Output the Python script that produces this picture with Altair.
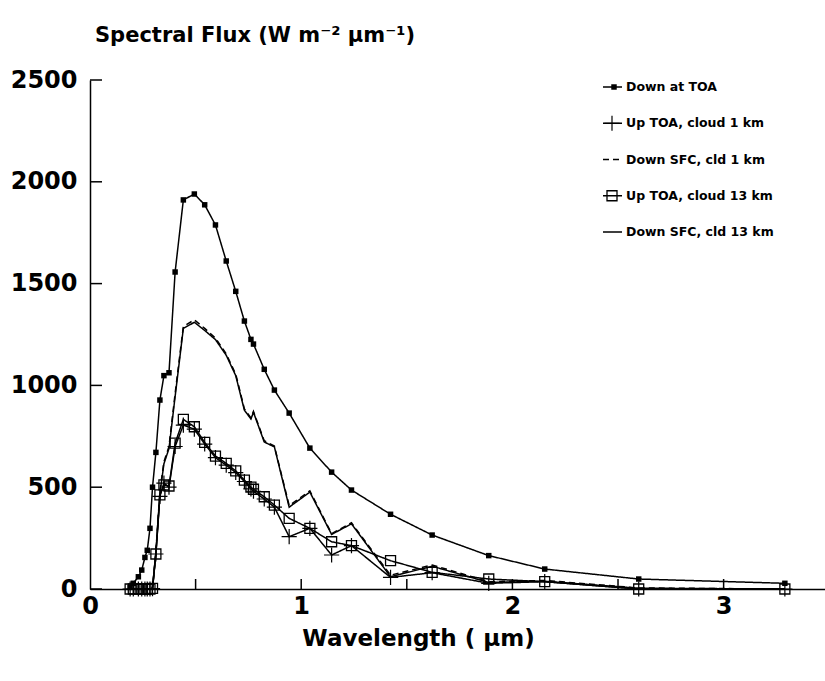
import altair as alt
import pandas as pd

# ---------------- data ----------------
names = [
    "Down at TOA",
    "Up TOA, cloud 1 km",
    "Down SFC, cld 1 km",
    "Up TOA, cloud 13 km",
    "Down SFC, cld 13 km",
]

wavelength = [0.19, 0.205, 0.229, 0.245, 0.26, 0.271, 0.284, 0.296, 0.312, 0.331,
              0.35, 0.374, 0.403, 0.442, 0.494, 0.543, 0.594, 0.645, 0.69, 0.731,
              0.762, 0.774, 0.825, 0.873, 0.943, 1.041, 1.144, 1.238, 1.423, 1.62,
              1.888, 2.153, 2.598, 3.29]

down_toa = [8, 28, 60, 93, 155, 190, 298, 500, 671, 928,
            1048, 1062, 1557, 1911, 1940, 1887, 1788, 1611, 1462, 1316,
            1226, 1203, 1079, 977, 864, 692, 574, 486, 367, 265,
            164, 98, 49, 28]

up_toa_1km = [0, 0, 0, 0, 0, 0, 0, 2, 172, 455,
              520, 500, 700, 805, 785, 712, 645, 608, 572, 528,
              492, 480, 442, 402, 257, 298, 167, 213, 57, 80,
              28, 36, 0, 0]

down_sfc_1km = [0, 0, 0, 0, 0, 0, 0, 5, 185, 480,
                625, 700, 960, 1290, 1322, 1280, 1232, 1155, 1055, 885,
                840, 872, 728, 702, 410, 482, 272, 325, 68, 118,
                36, 42, 5, 0]

up_toa_13km = [0, 0, 0, 0, 0, 0, 0, 3, 172, 462,
               511, 506, 716, 833, 797, 720, 653, 617, 580, 535,
               500, 490, 453, 412, 347, 298, 232, 213, 139, 82,
               49, 36, 0, 0]

down_sfc_13km = [0, 0, 0, 0, 0, 0, 0, 5, 180, 470,
                 615, 690, 945, 1280, 1310, 1270, 1225, 1148, 1048, 878,
                 835, 868, 722, 698, 402, 476, 268, 320, 60, 112,
                 32, 38, 4, 0]

y_ticks = [0, 500, 1000, 1500, 2000, 2500]
x_labels = [0, 1, 2, 3]
x_ticks = [0.5, 1.0, 1.5, 2.0, 2.5, 3.0]

series = [down_toa, up_toa_1km, down_sfc_1km, up_toa_13km, down_sfc_13km]
rows = []
for nm, vals in zip(names, series):
    for w, v in zip(wavelength, vals):
        rows.append({"series": nm, "wl": w, "flux": v})
df = pd.DataFrame(rows)

# ---------------- styling ----------------
FONT = "DejaVu Sans"
W, H = 735, 509
PLUS = "M-1,0H1M0,-1V1"

xscale = alt.Scale(domain=[0, 3.48], nice=False, zero=False)
yscale = alt.Scale(domain=[0, 2500], nice=False)

xaxis = alt.Axis(values=x_labels, ticks=False, grid=False, domainColor="black",
                 domainWidth=1.5, labelFont=FONT, labelFontSize=24,
                 labelFontWeight="bold", labelColor="black", labelPadding=5,
                 labelFlush=False, format="d",
                 title="Wavelength ( µm)", titleFont=FONT, titleFontSize=23,
                 titleFontWeight="bold", titleColor="black", titlePadding=9,
                 titleX=328, titleAlign="center")
yaxis = alt.Axis(values=y_ticks, ticks=False, grid=False, domainColor="black",
                 domainWidth=1.5, labelFont=FONT, labelFontSize=24,
                 labelFontWeight="bold", labelColor="black", labelPadding=13,
                 labelFlush=False, format="d", title=None)

X = alt.X("wl:Q", scale=xscale, axis=xaxis)
Y = alt.Y("flux:Q", scale=yscale, axis=yaxis)

dash = alt.StrokeDash("series:N", scale=alt.Scale(domain=names,
                      range=[[1, 0], [1, 0], [6, 4], [1, 0], [1, 0]]), legend=None)

base = alt.Chart(df)

lines = base.mark_line(color="black", strokeWidth=1.5).encode(
    x=X, y=Y, detail="series:N", strokeDash=dash)

toa_pts = base.transform_filter(alt.datum.series == names[0]).mark_square(
    color="black", size=30, opacity=1).encode(x=X, y=Y)
up1_pts = base.transform_filter(alt.datum.series == names[1]).mark_point(
    shape=PLUS, size=230, filled=False, color="black", strokeWidth=1.2,
    opacity=1).encode(x=X, y=Y)
up13_pts = base.transform_filter(alt.datum.series == names[3]).mark_point(
    shape="square", size=100, filled=False, color="black", strokeWidth=1.3,
    opacity=1).encode(x=X, y=Y)

ytick_layer = alt.Chart(pd.DataFrame({"flux": y_ticks})).mark_rule(
    color="black", strokeWidth=1.5).encode(
    y=Y, x=alt.value(0), x2=alt.value(12))
xtick_layer = alt.Chart(pd.DataFrame({"wl": x_ticks})).mark_rule(
    color="black", strokeWidth=1.5).encode(
    x=X, y=alt.value(H), y2=alt.value(H - 10))

main = alt.layer(lines, toa_pts, up1_pts, up13_pts, ytick_layer, xtick_layer)

# ---------------- legend ----------------
leg_df = pd.DataFrame({"series": names})
LY = alt.Y("series:N", scale=alt.Scale(type="point", domain=names,
                                        range=[7, 152], padding=0), axis=None)
lbase = alt.Chart(leg_df)
leg_lines = lbase.mark_rule(color="black", strokeWidth=1.3).encode(
    x=alt.value(513), x2=alt.value(532), y=LY, strokeDash=dash)
leg_toa = lbase.transform_filter(alt.datum.series == names[0]).mark_square(
    color="black", size=30, opacity=1).encode(x=alt.value(524), y=LY)
leg_up1 = lbase.transform_filter(alt.datum.series == names[1]).mark_point(
    shape=PLUS, size=230, filled=False, color="black", strokeWidth=1.2,
    opacity=1).encode(x=alt.value(522), y=LY)
leg_up13 = lbase.transform_filter(alt.datum.series == names[3]).mark_point(
    shape="square", size=100, filled=False, color="black", strokeWidth=1.3,
    opacity=1).encode(x=alt.value(522), y=LY)
leg_text = lbase.mark_text(align="left", baseline="middle", font=FONT,
                           fontSize=12.5, fontWeight="bold", color="black").encode(
    x=alt.value(536), y=LY, text="series:N")

legend = alt.layer(leg_lines, leg_toa, leg_up1, leg_up13, leg_text)

chart = alt.layer(main, legend).resolve_scale(y="independent").properties(
    width=W, height=H,
    background="white",
    title=alt.TitleParams("Spectral Flux (W m⁻² µm⁻¹)", anchor="start",
                          frame="group", dx=5, offset=22, font=FONT,
                          fontSize=21, fontWeight="bold", color="black"),
    autosize=alt.AutoSizeParams(type="none"),
    padding={"left": 90, "top": 80, "right": 0, "bottom": 92},
).configure_view(stroke=None)

chart.save("out.html", embed_options={"renderer": "svg", "actions": False})
